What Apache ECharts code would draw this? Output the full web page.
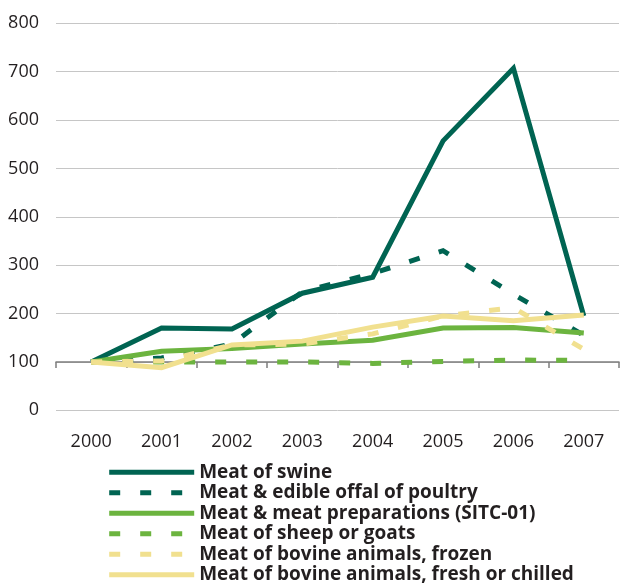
<!DOCTYPE html>
<html>
<head>
<meta charset="utf-8">
<style>
  html, body { margin: 0; padding: 0; background: #ffffff; }
  #chart { width: 620px; height: 587px; }
</style>
<script src="https://cdn.jsdelivr.net/npm/echarts@6/dist/echarts.min.js"></script>
</head>
<body>
<div id="chart"></div>
<script>
// Index of meat trade, 2000 = 100
const years = ['2000', '2001', '2002', '2003', '2004', '2005', '2006', '2007'];
const swine    = [100, 170, 168, 242, 275, 557, 707, 195];
const poultry  = [100, 108, 137, 245, 283, 330, 240, 155];
const meatPrep = [100, 122, 128, 137, 145, 170, 171, 160];
const sheep    = [100, 100, 100, 100,  97, 101, 104, 103];
const frozen   = [100, 102, 135, 137, 158, 195, 212, 126];
const fresh    = [100,  88, 135, 143, 172, 195, 185, 197];

const yTicks = { min: 0, max: 800, interval: 100 };
const baseValue = 100; // the category axis line crosses the value axis here

const names = [
  'Meat of swine',
  'Meat & edible offal of poultry',
  'Meat & meat preparations (SITC-01)',
  'Meat of sheep or goats',
  'Meat of bovine animals, frozen',
  'Meat of bovine animals, fresh or chilled'
];

const DARK = '#006452', GREEN = '#6cb43f', YELLOW = '#f1e08f';
const TEXT = '#231f20';
const AXIS = '#7d7d7d';
const DASH = [11, 20];

const H = 587;
const plot = { left: 56, right: 1, top: 23.3, bottom: 176.7 };
const plotHeight = H - plot.top - plot.bottom;
// second grid ends where the base value sits, so its category axis draws the crossing line
const baseGrid = {
  left: plot.left, right: plot.right, top: plot.top,
  bottom: plot.bottom + plotHeight * (baseValue - yTicks.min) / (yTicks.max - yTicks.min)
};

function line(name, data, color, dashed) {
  return {
    name: name,
    type: 'line',
    data: data,
    symbol: 'none',
    smooth: false,
    lineStyle: { color: color, width: 5, type: dashed ? DASH : 'solid', cap: 'butt', join: 'miter' },
    itemStyle: { color: color },
    emphasis: { disabled: true }
  };
}

const chart = echarts.init(document.getElementById('chart'), null, { renderer: 'canvas' });
chart.setOption({
  animation: false,
  backgroundColor: '#ffffff',
  grid: [plot, baseGrid],
  textStyle: { fontFamily: 'Open Sans' },
  xAxis: [
    {
      gridIndex: 0,
      type: 'category',
      data: years,
      boundaryGap: true,
      axisLine: { show: false },
      axisTick: { show: false },
      axisLabel: { margin: 23, fontSize: 18, color: TEXT, fontFamily: 'Open Sans' },
      splitLine: { show: false }
    },
    {
      gridIndex: 1,
      type: 'category',
      data: years,
      boundaryGap: true,
      z: 3,
      axisLine: { show: true, onZero: false, lineStyle: { color: AXIS, width: 1.5 } },
      axisTick: { show: true, length: 6, lineStyle: { color: AXIS, width: 1.5 } },
      axisLabel: { show: false },
      splitLine: { show: false }
    }
  ],
  yAxis: [
    {
      gridIndex: 0,
      type: 'value',
      min: yTicks.min,
      max: yTicks.max,
      interval: yTicks.interval,
      axisLine: { show: false },
      axisTick: { show: false },
      axisLabel: { margin: 17, fontSize: 18, color: TEXT, fontFamily: 'Open Sans' },
      splitLine: { show: true, lineStyle: { color: '#c6c6c6', width: 1 } }
    },
    {
      gridIndex: 1,
      type: 'value',
      show: false
    }
  ],
  legend: {
    orient: 'vertical',
    left: 106.7,
    top: 462,
    itemWidth: 85,
    itemHeight: 14,
    itemGap: 0,
    padding: 0,
    selectedMode: false,
    itemStyle: { opacity: 0 },
    lineStyle: { width: 5, cap: 'butt' },
    textStyle: { fontSize: 19, fontWeight: 'bold', color: TEXT, fontFamily: 'Open Sans', lineHeight: 20.5 },
    data: names
  },
  series: [
    line(names[0], swine, DARK, false),
    line(names[1], poultry, DARK, true),
    line(names[2], meatPrep, GREEN, false),
    line(names[3], sheep, GREEN, true),
    line(names[4], frozen, YELLOW, true),
    line(names[5], fresh, YELLOW, false)
  ]
});
</script>
</body>
</html>
